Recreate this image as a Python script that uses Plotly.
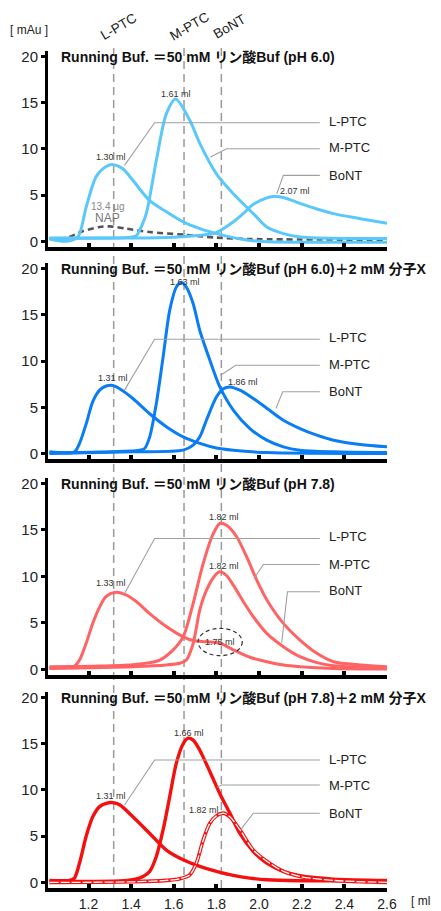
import plotly.graph_objects as go

# ---------------- data ----------------
# Panel 1: 50 mM phosphate pH 6.0
p1_lptc_x = [1.017, 1.095, 1.150, 1.189, 1.236, 1.283, 1.314, 1.361, 1.408, 1.487, 1.565, 1.644, 1.722, 1.800, 1.879, 1.957, 2.036, 2.300, 2.600]
p1_lptc_y = [0.25, 0.0, 0.47, 3.7, 7.0, 8.1, 8.3, 7.85, 6.6, 4.4, 3.2, 2.1, 1.37, 0.83, 0.4, 0.1, -0.05, -0.1, -0.1]
p1_mptc_x = [1.017, 1.200, 1.377, 1.424, 1.440, 1.471, 1.518, 1.565, 1.609, 1.675, 1.722, 1.800, 1.879, 1.973, 2.036, 2.114, 2.192, 2.600]
p1_mptc_y = [0.35, 0.35, 0.4, 0.6, 1.2, 3.0, 8.75, 13.8, 15.4, 13.1, 10.6, 7.3, 5.15, 3.0, 1.55, 0.83, 0.47, 0.3]
p1_bont_x = [1.017, 1.400, 1.600, 1.722, 1.800, 1.879, 1.926, 1.973, 2.036, 2.067, 2.114, 2.192, 2.271, 2.349, 2.475, 2.600]
p1_bont_y = [0.3, 0.35, 0.45, 0.65, 0.95, 2.1, 3.0, 4.0, 4.7, 4.85, 4.75, 4.1, 3.5, 3.0, 2.45, 1.95]
p1_nap_x = [1.017, 1.095, 1.173, 1.252, 1.299, 1.377, 1.487, 1.644, 1.800, 1.957, 2.600]
p1_nap_y = [0.3, 0.36, 1.1, 1.55, 1.62, 1.37, 1.0, 0.72, 0.4, 0.25, 0.18]

# Panel 2: pH 6.0 + 2 mM X
p2_lptc_x = [1.017, 1.134, 1.158, 1.189, 1.220, 1.252, 1.283, 1.314, 1.346, 1.408, 1.487, 1.565, 1.644, 1.722, 1.800, 1.879, 2.036, 2.600]
p2_lptc_y = [0.18, 0.18, 1.1, 3.2, 5.6, 6.85, 7.3, 7.35, 7.0, 5.95, 4.3, 2.9, 1.8, 1.1, 0.6, 0.36, 0.1, 0.0]
p2_mptc_x = [1.017, 1.252, 1.440, 1.463, 1.487, 1.518, 1.550, 1.581, 1.612, 1.636, 1.659, 1.691, 1.722, 1.769, 1.816, 1.879, 1.957, 2.036, 2.114, 2.192, 2.349, 2.600]
p2_mptc_y = [0.07, 0.15, 0.36, 0.54, 1.8, 5.4, 10.45, 15.5, 18.0, 18.5, 18.0, 16.2, 13.3, 10.1, 7.2, 4.7, 2.7, 1.44, 0.72, 0.36, 0.18, 0.1]
p2_bont_x = [1.017, 1.408, 1.644, 1.691, 1.722, 1.753, 1.800, 1.832, 1.863, 1.910, 1.973, 2.036, 2.114, 2.192, 2.271, 2.349, 2.475, 2.600]
p2_bont_y = [0.0, 0.18, 0.36, 0.9, 1.8, 3.6, 6.1, 7.0, 7.2, 6.85, 5.95, 4.9, 3.6, 2.7, 1.98, 1.44, 0.97, 0.72]

# Panel 3: pH 7.8
p3_lptc_x = [1.017, 1.134, 1.158, 1.189, 1.220, 1.252, 1.283, 1.330, 1.377, 1.424, 1.487, 1.565, 1.644, 1.691, 1.753, 1.816, 1.879, 1.957, 2.036, 2.114, 2.192, 2.349, 2.600]
p3_lptc_y = [0.2, 0.36, 1.0, 2.8, 4.95, 6.7, 7.85, 8.3, 8.0, 7.3, 6.0, 4.6, 3.5, 3.1, 2.97, 2.8, 2.1, 1.3, 0.82, 0.47, 0.29, 0.1, 0.04]
p3_mptc_x = [1.017, 1.252, 1.408, 1.487, 1.534, 1.597, 1.644, 1.691, 1.738, 1.785, 1.816, 1.847, 1.894, 1.942, 1.989, 2.036, 2.114, 2.192, 2.271, 2.349, 2.475, 2.600]
p3_mptc_y = [0.29, 0.36, 0.5, 0.72, 1.0, 2.1, 3.5, 7.1, 11.4, 14.6, 15.7, 15.5, 14.3, 12.1, 9.6, 7.5, 4.95, 3.15, 1.72, 0.82, 0.47, 0.29]
p3_bont_x = [1.017, 1.408, 1.565, 1.628, 1.659, 1.691, 1.722, 1.753, 1.793, 1.816, 1.847, 1.879, 1.926, 1.973, 2.036, 2.114, 2.192, 2.271, 2.349, 2.600]
p3_bont_y = [0.1, 0.29, 0.47, 0.65, 1.0, 2.8, 6.4, 8.5, 10.1, 10.5, 10.1, 9.07, 7.3, 5.66, 3.87, 2.44, 1.36, 0.72, 0.39, 0.1]

# Panel 4: pH 7.8 + 2 mM X
p4_lptc_x = [1.017, 1.111, 1.134, 1.158, 1.189, 1.220, 1.252, 1.283, 1.314, 1.346, 1.408, 1.487, 1.565, 1.644, 1.722, 1.800, 1.879, 1.957, 2.036, 2.192, 2.600]
p4_lptc_y = [0.22, 0.22, 0.47, 2.1, 5.0, 7.1, 8.2, 8.56, 8.63, 8.4, 7.1, 5.3, 3.5, 2.45, 1.73, 1.2, 0.76, 0.47, 0.29, 0.18, 0.18]
p4_mptc_x = [1.017, 1.346, 1.408, 1.456, 1.487, 1.518, 1.550, 1.581, 1.612, 1.644, 1.667, 1.691, 1.722, 1.769, 1.816, 1.863, 1.910, 1.973, 2.036, 2.114, 2.192, 2.349, 2.600]
p4_mptc_y = [0.1, 0.15, 0.29, 0.65, 1.2, 2.8, 5.7, 9.3, 12.9, 15.0, 15.6, 15.4, 14.3, 12.0, 9.6, 7.5, 5.3, 3.35, 2.1, 1.2, 0.72, 0.36, 0.22]
p4_bont_x = [1.017, 1.408, 1.565, 1.628, 1.675, 1.706, 1.738, 1.769, 1.800, 1.832, 1.863, 1.910, 1.973, 2.036, 2.114, 2.192, 2.349, 2.600]
p4_bont_y = [0.0, 0.07, 0.22, 0.4, 0.83, 2.1, 4.6, 6.4, 7.2, 7.5, 7.1, 5.7, 3.5, 2.3, 1.2, 0.65, 0.22, 0.0]

panel_titles = [
    "Running Buf. ＝50 mM リン酸Buf (pH 6.0)",
    "Running Buf. ＝50 mM リン酸Buf (pH 6.0)＋2 mM 分子X",
    "Running Buf. ＝50 mM リン酸Buf (pH 7.8)",
    "Running Buf. ＝50 mM リン酸Buf (pH 7.8)＋2 mM 分子X",
]
panel_colors = ["#5AC8FA", "#0A7DF5", "#FF6363", "#F50F0F"]
species = ["L-PTC", "M-PTC", "BoNT"]
ref_positions = [1.318, 1.648, 1.823]  # dashed reference lines
x_ticks = [1.2, 1.4, 1.6, 1.8, 2.0, 2.2, 2.4, 2.6]
y_ticks = [0, 5, 10, 15, 20]

# label positions (x, y, text) per panel
peak_labels = [
    [(1.612, 15.9, "1.61 ml"), (1.307, 9.1, "1.30 ml"), (2.169, 5.4, "2.07 ml")],
    [(1.651, 18.5, "1.63 ml"), (1.314, 8.2, "1.31 ml"), (1.926, 7.7, "1.86 ml")],
    [(1.835, 16.35, "1.82 ml"), (1.835, 11.15, "1.82 ml"), (1.307, 9.25, "1.33 ml"), (1.816, 2.95, "1.75 ml")],
    [(1.670, 16.2, "1.66 ml"), (1.307, 9.3, "1.31 ml"), (1.741, 7.8, "1.82 ml")],
]
# species label y positions per panel
legend_y = [[12.97, 10.16, 7.13], [12.54, 9.62, 6.67], [14.27, 11.33, 8.46], [13.3, 10.47, 7.48]]
# leader lines: (x0,y0,x1,y1,x2,y2)
leaders = [
    [(1.369, 8.22, 1.510, 12.83, 2.285, 12.83), (1.772, 9.12, 1.847, 10.02, 2.285, 10.02), (2.083, 5.15, 2.114, 7.14, 2.285, 7.14)],
    [(1.369, 6.85, 1.510, 12.36, 2.285, 12.36), (1.819, 8.47, 1.891, 9.55, 2.285, 9.55), (2.079, 4.86, 2.111, 6.67, 2.285, 6.67)],
    [(1.369, 8.17, 1.510, 14.09, 2.285, 14.09), (1.976, 9.78, 2.020, 11.29, 2.285, 11.29), (2.106, 2.87, 2.133, 8.35, 2.285, 8.35)],
    [(1.369, 8.38, 1.510, 13.24, 2.285, 13.24), (1.804, 10.29, 1.824, 10.54, 2.285, 10.54), (1.913, 5.68, 1.973, 7.48, 2.285, 7.48)],
]

series = [
    [(p1_lptc_x, p1_lptc_y), (p1_mptc_x, p1_mptc_y), (p1_bont_x, p1_bont_y)],
    [(p2_lptc_x, p2_lptc_y), (p2_mptc_x, p2_mptc_y), (p2_bont_x, p2_bont_y)],
    [(p3_lptc_x, p3_lptc_y), (p3_mptc_x, p3_mptc_y), (p3_bont_x, p3_bont_y)],
    [(p4_lptc_x, p4_lptc_y), (p4_mptc_x, p4_mptc_y), (p4_bont_x, p4_bont_y)],
]

FONT = "Liberation Sans, Arial, Noto Sans CJK JP, sans-serif"
domains = [[0.766, 1.0], [0.5125, 0.7467], [0.2546, 0.4899], [0.0, 0.2342]]

fig = go.Figure()
shapes = []
annotations = []

for i in range(4):
    xa = "x" if i == 0 else f"x{i+1}"
    ya = "y" if i == 0 else f"y{i+1}"
    col = panel_colors[i]
    if i == 0:
        fig.add_trace(go.Scatter(x=p1_nap_x, y=p1_nap_y, mode="lines", xaxis=xa, yaxis=ya,
                                 line=dict(color="#555555", width=2.6, dash="6px,4px", shape="spline", smoothing=0.8),
                                 hoverinfo="skip", showlegend=False))
    for j, (sx, sy) in enumerate(series[i]):
        if i == 3 and j == 2:
            fig.add_trace(go.Scatter(x=sx, y=sy, mode="lines", xaxis=xa, yaxis=ya,
                                     line=dict(color=col, width=3.6, shape="spline", smoothing=0.8),
                                     hoverinfo="skip", showlegend=False, name=species[j]))
            fig.add_trace(go.Scatter(x=sx, y=sy, mode="lines", xaxis=xa, yaxis=ya,
                                     line=dict(color="white", width=1.3, dash="9px,2px", shape="spline", smoothing=0.8),
                                     hoverinfo="skip", showlegend=False))
        else:
            fig.add_trace(go.Scatter(x=sx, y=sy, mode="lines", xaxis=xa, yaxis=ya,
                                     line=dict(color=col, width=3.4 if i == 3 else 3, shape="spline", smoothing=0.8),
                                     hoverinfo="skip", showlegend=False, name=species[j]))
    # leader lines
    for (x0, y0, x1, y1, x2, y2) in leaders[i]:
        shapes.append(dict(type="path", xref=xa, yref=ya,
                           path=f"M {x0},{y0} L {x1},{y1} L {x2},{y2}",
                           line=dict(color="#A0A0A0", width=1.1)))
    # species labels
    for j, name in enumerate(species):
        annotations.append(dict(x=2.32, y=legend_y[i][j], xref=xa, yref=ya, text=name, showarrow=False,
                                xanchor="left", yanchor="middle", font=dict(family=FONT, size=13, color="#222")))
    # peak labels
    for (px, py, t) in peak_labels[i]:
        annotations.append(dict(x=px, y=py, xref=xa, yref=ya, text=t, showarrow=False,
                                xanchor="center", yanchor="middle", font=dict(family=FONT, size=9, color="#333")))
    # title
    annotations.append(dict(x=1.063, y=20, xref=xa, yref=ya, text=f"<b>{panel_titles[i]}</b>", showarrow=False,
                            xanchor="left", yanchor="middle", font=dict(family=FONT, size=14, color="#111")))

    fig.update_layout(**{
        ("xaxis" if i == 0 else f"xaxis{i+1}"): dict(
            domain=[0, 1], anchor=ya, range=[1.01, 2.6], showgrid=False, zeroline=False,
            showline=True, linecolor="black", linewidth=3.5,
            ticks="inside", tickvals=x_ticks, ticklen=4, tickwidth=4, tickcolor="black",
            showticklabels=(i == 3), tickformat=".1f",
            tickfont=dict(family=FONT, size=14, color="#222"), automargin=False),
        ("yaxis" if i == 0 else f"yaxis{i+1}"): dict(
            domain=domains[i], anchor=xa, range=[-0.6, 20.6], showgrid=False, zeroline=False,
            showline=True, linecolor="black", linewidth=3,
            ticks="outside", tickvals=y_ticks, ticklen=4, tickwidth=3, tickcolor="black",
            tickfont=dict(family=FONT, size=15, color="#222"), automargin=False),
    })

# NAP annotation
annotations.append(dict(x=1.291, y=3.75, xref="x", yref="y", text="13.4 µg", showarrow=False,
                        font=dict(family=FONT, size=10, color="#888")))
annotations.append(dict(x=1.291, y=2.5, xref="x", yref="y", text="NAP", showarrow=False,
                        font=dict(family=FONT, size=12, color="#777")))

# dashed ellipse around 1.75 ml in panel 3
shapes.append(dict(type="circle", xref="x3", yref="y3", x0=1.714, x1=1.921, y0=1.47, y1=4.41,
                   line=dict(color="#333", width=1.2, dash="4px,3px")))

# dashed reference lines across panels + rotated labels
for k, xv in enumerate(ref_positions):
    shapes.append(dict(type="line", xref="x4", yref="paper", x0=xv, x1=xv, y0=0, y1=1.009,
                       line=dict(color="#9A9A9A", width=1.5, dash="8px,5px"), layer="below"))
    annotations.append(dict(x=xv, y=1.0295, xref="x4", yref="paper", text=species[k], showarrow=False,
                            textangle=-30, xanchor="center", yanchor="middle", xshift=5 if k < 2 else 8,
                            font=dict(family=FONT, size=13.5, color="#222")))

annotations.append(dict(x=-0.056, y=1.0245, xref="paper", yref="paper", text="[ mAu ]", showarrow=False,
                        xanchor="center", yanchor="middle", font=dict(family=FONT, size=12, color="#222")))
annotations.append(dict(x=1.108, y=-0.0155, xref="paper", yref="paper", text="[ ml ]", showarrow=False,
                        xanchor="center", yanchor="middle", font=dict(family=FONT, size=12, color="#222")))

# page body adds an 8px offset; size/margins compensate for it
fig.update_layout(width=433, height=903, margin=dict(l=40, r=54, t=42.5, b=22.8),
                  paper_bgcolor="white", plot_bgcolor="rgba(0,0,0,0)",
                  shapes=shapes, annotations=annotations, showlegend=False,
                  font=dict(family=FONT))

fig.write_html("out.html")
